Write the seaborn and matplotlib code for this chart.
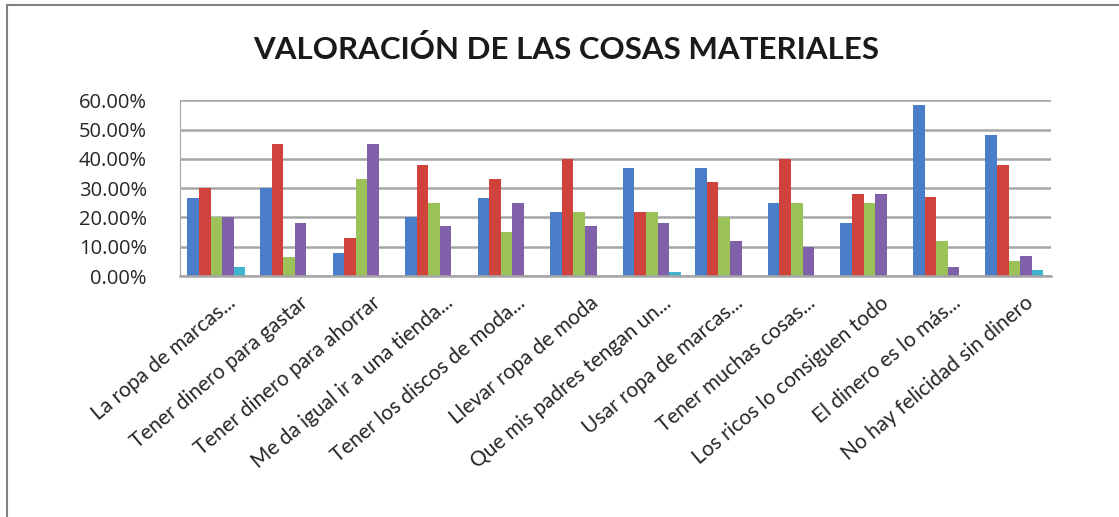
import pandas as pd
import matplotlib.pyplot as plt
import matplotlib.ticker as mtick
import matplotlib.transforms as mtrans
import seaborn as sns

# ── Data ─────────────────────────────────────────────────────────────
categories = [
    "La ropa de marcas...",
    "Tener dinero para gastar",
    "Tener dinero para ahorrar",
    "Me da igual ir a una tienda...",
    "Tener los discos de moda...",
    "Llevar ropa de moda",
    "Que mis padres tengan un...",
    "Usar ropa de marcas...",
    "Tener muchas cosas...",
    "Los ricos lo consiguen todo",
    "El dinero es lo más...",
    "No hay felicidad sin dinero",
]

serie_1 = [0.265, 0.30, 0.08, 0.20, 0.265, 0.22, 0.37, 0.37, 0.25, 0.18, 0.585, 0.48]
serie_2 = [0.30, 0.45, 0.13, 0.38, 0.33, 0.40, 0.22, 0.32, 0.40, 0.28, 0.27, 0.38]
serie_3 = [0.20, 0.065, 0.33, 0.25, 0.15, 0.22, 0.22, 0.20, 0.25, 0.25, 0.12, 0.05]
serie_4 = [0.20, 0.18, 0.45, 0.17, 0.25, 0.17, 0.18, 0.12, 0.10, 0.28, 0.03, 0.07]
serie_5 = [0.03, 0.0, 0.0, 0.0, 0.0, 0.0, 0.015, 0.0, 0.0, 0.0, 0.0, 0.02]

series_names = ["Serie 1", "Serie 2", "Serie 3", "Serie 4", "Serie 5"]
COLORS = ["#4A7EC8", "#D0423C", "#9BC258", "#8060A8", "#3EB4D0"]

rows = []
for name, vals in zip(series_names, [serie_1, serie_2, serie_3, serie_4, serie_5]):
    for cat, v in zip(categories, vals):
        rows.append({"categoria": cat, "serie": name, "valor": v})
df = pd.DataFrame(rows)

# ── Plot ─────────────────────────────────────────────────────────────
sns.set_style("white")
plt.rcParams["font.family"] = ["Lato", "DejaVu Sans"]

fig = plt.figure(figsize=(11.19, 5.17), dpi=100)
ax = fig.add_axes([0.161, 0.466, 0.778, 0.34])

sns.barplot(
    data=df, x="categoria", y="valor", hue="serie",
    palette=COLORS, saturation=1, width=0.8, edgecolor="none",
    order=categories, hue_order=series_names, ax=ax, legend=False,
)

ax.set_ylim(0, 0.6)
ax.set_xlim(-0.5, len(categories) - 0.5)
ax.yaxis.set_major_locator(mtick.MultipleLocator(0.1))
ax.yaxis.set_major_formatter(mtick.PercentFormatter(xmax=1, decimals=2))
ax.grid(axis="y", color="#a6a6a6", linewidth=1.8)
ax.set_axisbelow(True)
for s in ["top", "right"]:
    ax.spines[s].set_visible(False)
ax.spines["left"].set_color("#a6a6a6")
ax.spines["bottom"].set_color("#a6a6a6")
ax.spines["bottom"].set_linewidth(1.8)

ax.set_xlabel("")
ax.set_ylabel("")
ax.tick_params(axis="y", labelsize=14.5, colors="#262626", length=0, pad=24)
ax.tick_params(axis="x", labelsize=15, colors="#262626", length=0, pad=12)
for lab in ax.get_yticklabels():
    lab.set_fontfamily(["Open Sans", "DejaVu Sans"])
shift = mtrans.ScaledTranslation(10 / 100, 0, fig.dpi_scale_trans)
for lab in ax.get_xticklabels():
    lab.set_rotation(40)
    lab.set_ha("right")
    lab.set_rotation_mode("anchor")
    lab.set_transform(lab.get_transform() + shift)

fig.text(0.506, 0.905, "VALORACIÓN DE LAS COSAS MATERIALES",
         ha="center", va="center", fontsize=22.5, fontweight="bold", color="#1a1a1a")

# frame of the chart area
fig.add_artist(plt.Line2D([0.0063, 0.0063], [0.0, 0.99], color="#808080",
                          linewidth=1.5, transform=fig.transFigure))
fig.add_artist(plt.Line2D([0.0063, 1.0], [0.99, 0.99], color="#808080",
                          linewidth=1.5, transform=fig.transFigure))

plt.savefig("out.png", dpi=100)
plt.close()
